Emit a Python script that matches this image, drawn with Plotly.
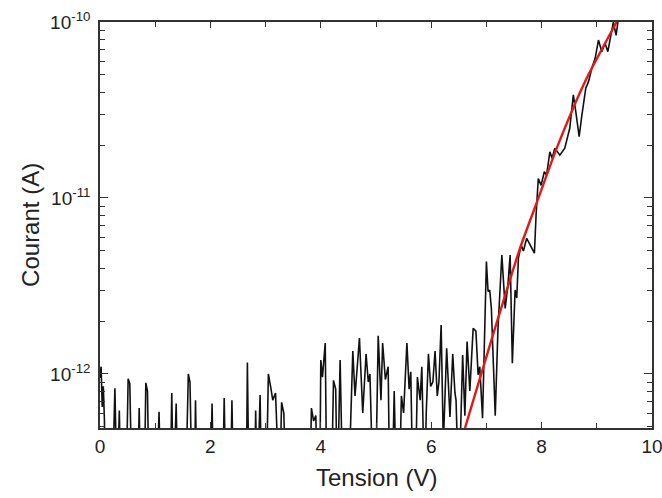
import plotly.graph_objects as go

# ---- data ----
FLOOR = 2e-13  # readings at/below the bottom of the plotted range

tension_v = [
    0.00, 0.02, 0.04, 0.06, 0.08, 0.10,
    0.22, 0.27, 0.31, 0.35, 0.38,
    0.47, 0.51, 0.54, 0.58,
    0.68, 0.71, 0.74,
    0.80, 0.83, 0.86, 0.89,
    1.02, 1.07, 1.10,
    1.27, 1.30, 1.33, 1.38, 1.41,
    1.55, 1.60, 1.63, 1.67,
    1.71, 1.73, 1.76,
    2.00, 2.03, 2.06,
    2.22, 2.25, 2.28,
    2.36, 2.39, 2.42,
    2.65, 2.67, 2.70,
    2.80, 2.82, 2.85, 2.90, 2.93,
    3.01, 3.05, 3.09, 3.13, 3.18, 3.22,
    3.25, 3.29, 3.33, 3.37,
    3.80, 3.83, 3.87, 3.91, 3.94,
    3.98, 4.00, 4.03, 4.08, 4.11,
    4.19, 4.23, 4.27, 4.30, 4.35, 4.40,
    4.50, 4.58, 4.62, 4.70, 4.76, 4.82, 4.86, 4.89, 4.95,
    4.99, 5.04, 5.09, 5.12, 5.17, 5.22, 5.25,
    5.29, 5.33, 5.37,
    5.42, 5.46, 5.50, 5.56, 5.60, 5.63, 5.67,
    5.71, 5.75, 5.80, 5.83, 5.88,
    5.91, 5.95, 5.99, 6.03, 6.07, 6.11, 6.14, 6.18, 6.22,
    6.28, 6.34, 6.39, 6.43, 6.45, 6.50,
    6.57, 6.61, 6.65, 6.70, 6.76, 6.81, 6.85, 6.88, 6.93,
    7.00, 7.03, 7.06, 7.09, 7.16, 7.21, 7.28, 7.34, 7.39, 7.43,
    7.47, 7.52, 7.55, 7.58, 7.63, 7.67, 7.73, 7.79, 7.87, 7.90,
    7.94, 7.99, 8.05, 8.09, 8.15, 8.19, 8.24, 8.33, 8.42, 8.51,
    8.575, 8.62, 8.68, 8.73, 8.80, 8.85, 8.91, 8.97, 9.03, 9.09,
    9.15, 9.20, 9.26, 9.30, 9.35, 9.40,
]

courant_a = [
    9.5e-13, 1.1e-12, 6.5e-13, 8.5e-13, 5.5e-13, FLOOR,
    FLOOR, 8.3e-13, FLOOR, 6.2e-13, FLOOR,
    FLOOR, 9.4e-13, 8.8e-13, FLOOR,
    FLOOR, 6.4e-13, FLOOR,
    FLOOR, 8.9e-13, 8.0e-13, FLOOR,
    FLOOR, 6.1e-13, FLOOR,
    FLOOR, 7.8e-13, FLOOR, 6.8e-13, FLOOR,
    FLOOR, 1.0e-12, 9.0e-13, FLOOR,
    FLOOR, 7.1e-13, FLOOR,
    FLOOR, 6.8e-13, FLOOR,
    FLOOR, 7.3e-13, FLOOR,
    FLOOR, 7.1e-13, FLOOR,
    FLOOR, 1.16e-12, FLOOR,
    FLOOR, 6.2e-13, FLOOR, 7.6e-13, FLOOR,
    FLOOR, 1.0e-12, 8.5e-13, 7.1e-13, 7.8e-13, FLOOR,
    FLOOR, 6.9e-13, 6.0e-13, FLOOR,
    FLOOR, 6.4e-13, 5.4e-13, 5.8e-13, FLOOR,
    FLOOR, 1.2e-12, 9.6e-13, 1.5e-12, FLOOR,
    FLOOR, 9.2e-13, 8.2e-13, FLOOR, 1.2e-12, FLOOR,
    FLOOR, 1.35e-12, 7.5e-13, 1.6e-12, 6.0e-13, 1.3e-12, 9.0e-13, 1.0e-12, FLOOR,
    FLOOR, 1.65e-12, 7.1e-13, 1.5e-12, 9.3e-13, 1.1e-12, FLOOR,
    FLOOR, 8.0e-13, FLOOR,
    FLOOR, 7.5e-13, 6.0e-13, 1.5e-12, 8.2e-13, 1.03e-12, FLOOR,
    FLOOR, 9.6e-13, 7.1e-13, 1.1e-12, FLOOR,
    6.0e-13, 1.3e-12, 8.5e-13, 9.0e-13, 1.35e-12, 7.5e-13, 9.0e-13, 1.9e-12, 4.0e-13,
    1.4e-12, 5.7e-13, 1.3e-12, 7.8e-13, 7.1e-13, FLOOR,
    1.28e-12, 5.8e-13, 1.53e-12, 8.0e-13, 1.82e-12, 1.75e-12, 9.9e-13, 1.1e-12, 5.6e-13,
    4.35e-12, 2.94e-12, 3.0e-12, 2.36e-12, 5.8e-13, 1.82e-12, 4.74e-12, 2.36e-12, 3.2e-12, 4.74e-12,
    1.15e-12, 3.0e-12, 2.7e-12, 4.55e-12, 5.4e-12, 5.0e-12, 5.9e-12, 5.4e-12, 4.86e-12, 8.0e-12,
    1.29e-11, 1.18e-11, 1.41e-11, 1.35e-11, 1.83e-11, 1.68e-11, 1.92e-11, 1.75e-11, 1.92e-11, 2.49e-11,
    3.85e-11, 3.09e-11, 2.23e-11, 2.96e-11, 4.2e-11, 4.58e-11, 5.46e-11, 6.22e-11, 7.9e-11, 6.78e-11,
    7.57e-11, 6.78e-11, 8.43e-11, 1.0e-10, 8.4e-11, 1.1e-10,
]

# red fit curve
fit_v = [6.612, 7.156, 7.609, 7.940, 8.274, 8.786, 9.360]
fit_a = [4.93e-13, 1.82e-12, 5.18e-12, 9.95e-12, 1.92e-11, 4.58e-11, 1.0e-10]

x_tick_vals = [0, 2, 4, 6, 8, 10]
y_tick_vals = [1e-12, 1e-11, 1e-10]
y_tick_text = ["10<sup>-12</sup>", "10<sup>-11</sup>", "10<sup>-10</sup>"]
x_range = [0, 10]
y_range_log = [-12.307, -10.0]

x_title = "Tension (V)"
y_title = "Courant (A)"

# ---- figure ----
minor_y = [k * 10.0 ** n for n in (-13, -12, -11) for k in range(2, 10)]
AX = "#333333"
FONT = "Liberation Sans, Arial, sans-serif"

fig = go.Figure()
fig.add_trace(go.Scatter(
    x=tension_v, y=courant_a, mode="lines",
    line=dict(color="#111111", width=1.6),
    showlegend=False, hoverinfo="skip",
))
fig.add_trace(go.Scatter(
    x=fit_v, y=fit_a, mode="lines",
    line=dict(color="rgb(225,25,25)", width=2.4, shape="spline", smoothing=0.6),
    showlegend=False, hoverinfo="skip",
))
# invisible copy on the mirror axes so that the top/right frame ticks render
fig.add_trace(go.Scatter(
    x=fit_v, y=fit_a, mode="lines", xaxis="x2", yaxis="y2",
    line=dict(color="rgba(0,0,0,0)", width=0),
    showlegend=False, hoverinfo="skip",
))

tick_font = dict(family=FONT, size=19, color="#222222")
title_font = dict(family=FONT, size=24, color="#222222")

common = dict(showgrid=False, zeroline=False, showline=True, linecolor=AX,
              linewidth=1.5, ticks="inside", tickwidth=1.3, tickcolor=AX,
              automargin=False)

fig.update_layout(
    width=662, height=498,
    margin=dict(l=100, r=10, t=22, b=70),
    paper_bgcolor="white", plot_bgcolor="white",
    showlegend=False,
    xaxis=dict(
        range=x_range, tickmode="array", tickvals=x_tick_vals, ticklen=6,
        minor=dict(dtick=1, tick0=0, ticks="inside", ticklen=5, tickwidth=1.3,
                   tickcolor=AX, showgrid=False),
        tickfont=tick_font, ticklabeloverflow="allow", **common,
    ),
    yaxis=dict(
        type="log", range=y_range_log,
        tickmode="array", tickvals=y_tick_vals, ticktext=y_tick_text, ticklen=8,
        minor=dict(tickmode="array", tickvals=minor_y, ticks="inside", ticklen=5,
                   tickwidth=1.3, tickcolor=AX, showgrid=False),
        tickfont=tick_font, ticklabeloverflow="allow", ticklabelstandoff=4,
        **common,
    ),
    xaxis2=dict(
        overlaying="x", side="top", range=x_range, tickmode="array",
        tickvals=x_tick_vals, ticklen=6, showticklabels=False,
        minor=dict(dtick=1, tick0=0, ticks="inside", ticklen=5, tickwidth=1.3,
                   tickcolor=AX, showgrid=False),
        **common,
    ),
    yaxis2=dict(
        overlaying="y", side="right", type="log", range=y_range_log,
        tickmode="array", tickvals=y_tick_vals, ticklen=8, showticklabels=False,
        minor=dict(tickmode="array", tickvals=minor_y, ticks="inside", ticklen=5,
                   tickwidth=1.3, tickcolor=AX, showgrid=False),
        **common,
    ),
    annotations=[
        dict(text=x_title, xref="paper", yref="paper", x=0.5, y=-0.123,
             xanchor="center", yanchor="middle", showarrow=False, font=title_font),
        dict(text=y_title, xref="paper", yref="paper", x=-0.127, y=0.5,
             xanchor="center", yanchor="middle", textangle=-90, showarrow=False,
             font=title_font),
    ],
)

fig.write_html(
    "out.html",
    config={"displayModeBar": False},
    post_script="document.body.style.margin='0px';document.body.style.padding='0px';",
)
